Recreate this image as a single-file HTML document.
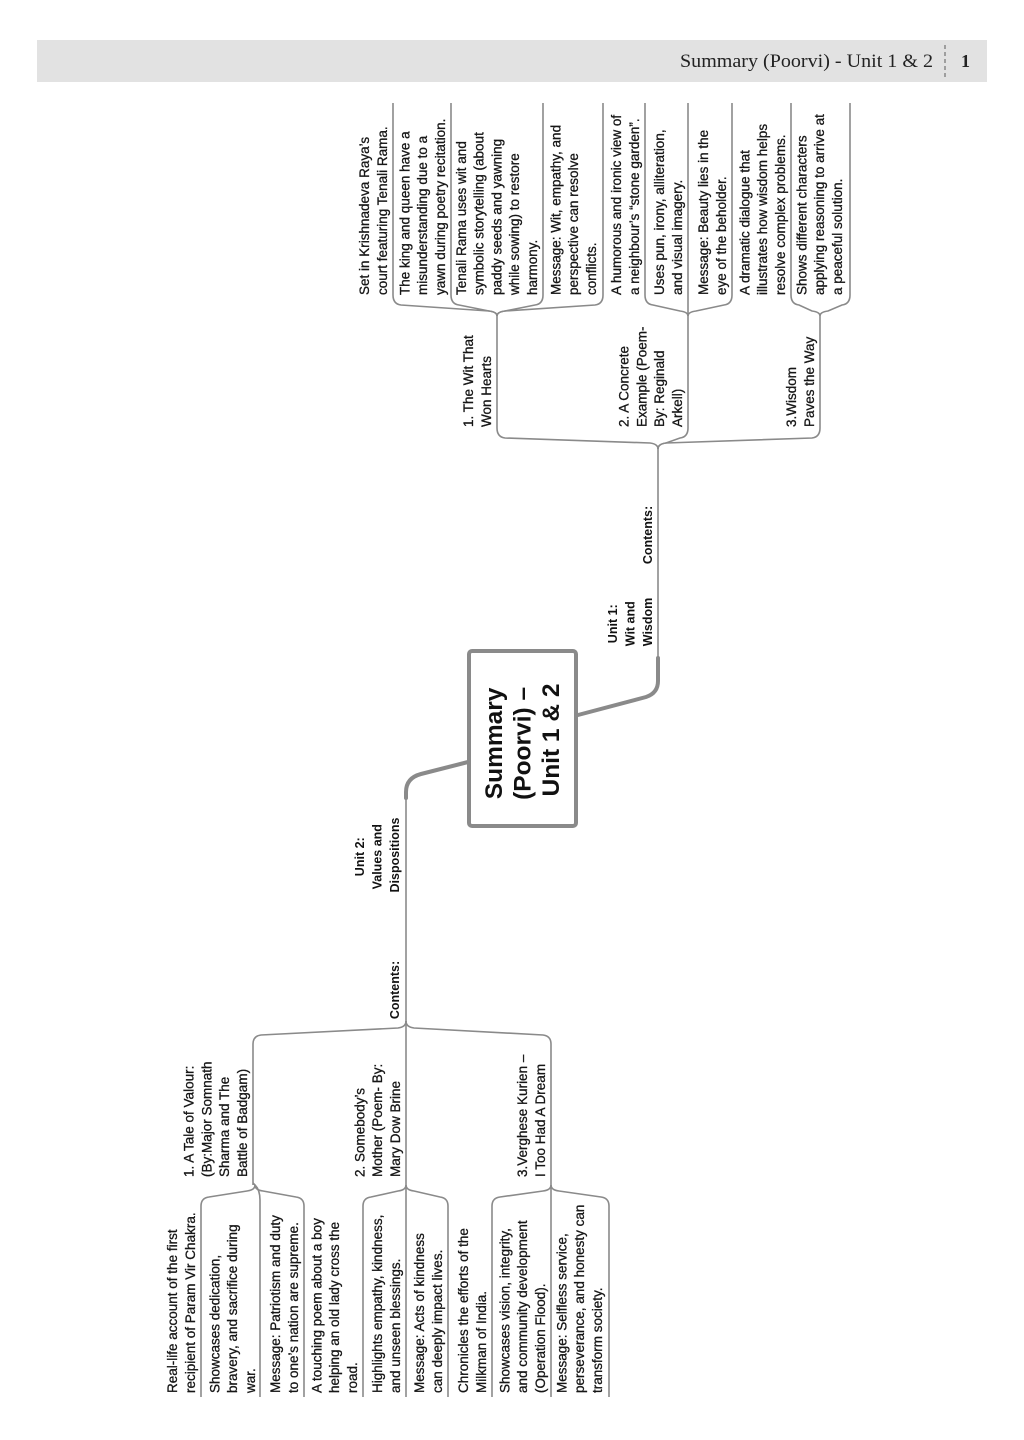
<!DOCTYPE html>
<html>
<head>
<meta charset="utf-8">
<style>
  html,body{margin:0;padding:0;background:#fff;}
  svg{display:block;}
  .t{font-family:"Liberation Sans",Arial,sans-serif;font-size:13.5px;fill:#161616;stroke:#161616;stroke-width:0.3px;}
  .b{font-family:"Liberation Sans",Arial,sans-serif;font-size:12.5px;font-weight:bold;fill:#111;}
  .c{font-family:"Liberation Sans",Arial,sans-serif;font-size:24.5px;font-weight:bold;fill:#111;}
  .ln{fill:none;stroke:#8a8a8a;stroke-width:1.6;}
  .th{fill:none;stroke:#8a8a8a;stroke-width:4;stroke-linecap:round;}
</style>
</head>
<body>
<svg width="1024" height="1440" viewBox="0 0 1024 1440" xmlns="http://www.w3.org/2000/svg">
  <!-- header -->
  <rect x="37" y="40" width="950" height="42" fill="#e2e2e2"/>
  <text x="680" y="67" font-family="'Liberation Serif',serif" font-size="19" fill="#222" textLength="253" lengthAdjust="spacingAndGlyphs">Summary (Poorvi) - Unit 1 &amp; 2</text>
  <line x1="945" y1="45" x2="945" y2="78" stroke="#888" stroke-width="1.5" stroke-dasharray="4,3"/>
  <text x="961" y="67" font-family="'Liberation Serif',serif" font-size="18" font-weight="bold" fill="#222">1</text>

  <!-- ===== TOP SECTION (Unit 1) connectors ===== -->
  <path class="ln" d="M393 103 V295 Q393 304 401 305 L489 311 Q497 312 497 316"/>
  <path class="ln" d="M451 103 V295 Q451 304 459 305 L489 311 Q497 312 497 316"/>
  <path class="ln" d="M543 103 V295 Q543 304 535 305 L505 311 Q497 312 497 316"/>
  <path class="ln" d="M603 103 V295 Q603 304 595 305 L505 311 Q497 312 497 316"/>
  <path class="ln" d="M645 103 V295 Q645 304 653 305 L680 311 Q688 312 688 316"/>
  <path class="ln" d="M688 103 V316"/>
  <path class="ln" d="M732 103 V295 Q732 304 724 305 L696 311 Q688 312 688 316"/>
  <path class="ln" d="M791 103 V295 Q791 304 799 305 L812 311 Q820 312 820 316"/>
  <path class="ln" d="M850 103 V295 Q850 304 842 305 L828 311 Q820 312 820 316"/>
  <path class="ln" d="M497 316 V428 Q497 437 505 438 L650 443 Q658 444 658 449"/>
  <path class="ln" d="M688 316 V428 Q688 437 680 438 L666 443 Q658 444 658 449"/>
  <path class="ln" d="M820 316 V428 Q820 437 812 438 L666 443 Q658 444 658 449"/>
  <path class="ln" d="M658 447 V662"/>
  <path class="th" d="M658 658 L658 681 Q658 693 646 697 L578 715"/>

  <!-- ===== LEFT/BOTTOM SECTION (Unit 2) connectors ===== -->
  <path class="th" d="M468 762 L421 774 Q406 778 406 792 L406 798"/>
  <path class="ln" d="M406 794 V1022"/>
  <path class="ln" d="M253 1185 V1044 Q253 1036 261 1035 L398 1028 Q406 1027 406 1021"/>
  <path class="ln" d="M406 1021 V1185"/>
  <path class="ln" d="M551 1185 V1044 Q551 1036 543 1035 L414 1028 Q406 1027 406 1021"/>
  <path class="ln" d="M201 1397 V1206 Q201 1198 209 1197 L247 1191 Q255 1190 255 1185"/>
  <path class="ln" d="M260 1397 V1200 Q260 1190 255 1185 L253 1183"/>
  <path class="ln" d="M304 1397 V1206 Q304 1198 296 1197 L263 1191 Q255 1190 255 1185"/>
  <path class="ln" d="M363 1397 V1206 Q363 1198 371 1197 L398 1191 Q406 1190 406 1185"/>
  <path class="ln" d="M406 1185 V1397"/>
  <path class="ln" d="M448 1397 V1206 Q448 1198 440 1197 L414 1191 Q406 1190 406 1185"/>
  <path class="ln" d="M492 1397 V1206 Q492 1198 500 1197 L543 1191 Q551 1190 551 1185"/>
  <path class="ln" d="M551 1185 V1397"/>
  <path class="ln" d="M609 1397 V1206 Q609 1198 601 1197 L559 1191 Q551 1190 551 1185"/>

  <!-- ===== Central box ===== -->
  <rect x="469" y="651" width="107" height="175" rx="3" ry="3" fill="#fff" stroke="#8a8a8a" stroke-width="4"/>
  <text class="c" text-anchor="middle" transform="translate(502,740) rotate(-90)">
    <tspan x="0" y="0">Summary</tspan>
    <tspan x="0" y="28.5">(Poorvi) –</tspan>
    <tspan x="0" y="57">Unit 1 &amp; 2</tspan>
  </text>

  <!-- Unit labels -->
  <text class="b" text-anchor="middle" transform="translate(652,622) rotate(-90)">
    <tspan x="0" y="-35">Unit 1:</tspan>
    <tspan x="0" y="-17.5">Wit and</tspan>
    <tspan x="0" y="0">Wisdom</tspan>
  </text>
  <text class="b" text-anchor="middle" transform="translate(652,535) rotate(-90)">Contents:</text>

  <text class="b" text-anchor="middle" transform="translate(399,855) rotate(-90)">
    <tspan x="0" y="-35">Unit 2:</tspan>
    <tspan x="0" y="-17.5">Values and</tspan>
    <tspan x="0" y="0">Dispositions</tspan>
  </text>
  <text class="b" text-anchor="middle" transform="translate(399,990) rotate(-90)">Contents:</text>

  <!-- ===== Top section branch texts ===== -->
  <text class="t" transform="translate(491,427) rotate(-90)">
    <tspan x="0" y="-17.8">1. The Wit That</tspan>
    <tspan x="0" y="0">Won Hearts</tspan>
  </text>
  <text class="t" transform="translate(682,427) rotate(-90)">
    <tspan x="0" y="-53.4">2. A Concrete</tspan>
    <tspan x="0" y="-35.6">Example  (Poem-</tspan>
    <tspan x="0" y="-17.8">By: Reginald</tspan>
    <tspan x="0" y="0">Arkell)</tspan>
  </text>
  <text class="t" transform="translate(814,427) rotate(-90)">
    <tspan x="0" y="-17.8">3.Wisdom</tspan>
    <tspan x="0" y="0">Paves the Way</tspan>
  </text>

  <!-- ===== Top section leaves ===== -->
  <text class="t" transform="translate(387,295) rotate(-90)">
    <tspan x="0" y="-17.8">Set in Krishnadeva Raya’s</tspan>
    <tspan x="0" y="0">court featuring Tenali Rama.</tspan>
  </text>
  <text class="t" transform="translate(445,295) rotate(-90)">
    <tspan x="0" y="-35.6">The king and queen have a</tspan>
    <tspan x="0" y="-17.8">misunderstanding due to a</tspan>
    <tspan x="0" y="0">yawn during poetry recitation.</tspan>
  </text>
  <text class="t" transform="translate(537,295) rotate(-90)">
    <tspan x="0" y="-71.2">Tenali Rama uses wit and</tspan>
    <tspan x="0" y="-53.4">symbolic storytelling (about</tspan>
    <tspan x="0" y="-35.6">paddy seeds and yawning</tspan>
    <tspan x="0" y="-17.8">while sowing) to restore</tspan>
    <tspan x="0" y="0">harmony.</tspan>
  </text>
  <text class="t" transform="translate(596,295) rotate(-90)">
    <tspan x="0" y="-35.6">Message: Wit, empathy, and</tspan>
    <tspan x="0" y="-17.8">perspective can resolve</tspan>
    <tspan x="0" y="0">conflicts.</tspan>
  </text>
  <text class="t" transform="translate(639,295) rotate(-90)">
    <tspan x="0" y="-17.8">A humorous and ironic view of</tspan>
    <tspan x="0" y="0">a neighbour’s “stone garden”.</tspan>
  </text>
  <text class="t" transform="translate(682,295) rotate(-90)">
    <tspan x="0" y="-17.8">Uses pun, irony, alliteration,</tspan>
    <tspan x="0" y="0">and visual imagery.</tspan>
  </text>
  <text class="t" transform="translate(726,295) rotate(-90)">
    <tspan x="0" y="-17.8">Message: Beauty lies in the</tspan>
    <tspan x="0" y="0">eye of the beholder.</tspan>
  </text>
  <text class="t" transform="translate(785,295) rotate(-90)">
    <tspan x="0" y="-35.6">A dramatic dialogue that</tspan>
    <tspan x="0" y="-17.8">illustrates how wisdom helps</tspan>
    <tspan x="0" y="0">resolve complex problems.</tspan>
  </text>
  <text class="t" transform="translate(842,295) rotate(-90)">
    <tspan x="0" y="-35.6">Shows different characters</tspan>
    <tspan x="0" y="-17.8">applying reasoning to arrive at</tspan>
    <tspan x="0" y="0">a peaceful solution.</tspan>
  </text>

  <!-- ===== Left section branch texts ===== -->
  <text class="t" transform="translate(247,1177) rotate(-90)">
    <tspan x="0" y="-53.4">1. A Tale of Valour:</tspan>
    <tspan x="0" y="-35.6">(By:Major Somnath</tspan>
    <tspan x="0" y="-17.8">Sharma and The</tspan>
    <tspan x="0" y="0">Battle of Badgam)</tspan>
  </text>
  <text class="t" transform="translate(400,1177) rotate(-90)">
    <tspan x="0" y="-35.6">2. Somebody’s</tspan>
    <tspan x="0" y="-17.8">Mother  (Poem- By:</tspan>
    <tspan x="0" y="0">Mary Dow Brine</tspan>
  </text>
  <text class="t" transform="translate(545,1177) rotate(-90)">
    <tspan x="0" y="-17.8">3.Verghese Kurien –</tspan>
    <tspan x="0" y="0">I Too Had A Dream</tspan>
  </text>

  <!-- ===== Left section leaves ===== -->
  <text class="t" transform="translate(195,1393) rotate(-90)">
    <tspan x="0" y="-17.8">Real-life account of the first</tspan>
    <tspan x="0" y="0">recipient of Param Vir Chakra.</tspan>
  </text>
  <text class="t" transform="translate(255,1393) rotate(-90)">
    <tspan x="0" y="-35.6">Showcases dedication,</tspan>
    <tspan x="0" y="-17.8">bravery, and sacrifice during</tspan>
    <tspan x="0" y="0">war.</tspan>
  </text>
  <text class="t" transform="translate(298,1393) rotate(-90)">
    <tspan x="0" y="-17.8">Message: Patriotism and duty</tspan>
    <tspan x="0" y="0">to one’s nation are supreme.</tspan>
  </text>
  <text class="t" transform="translate(357,1393) rotate(-90)">
    <tspan x="0" y="-35.6">A touching poem about a boy</tspan>
    <tspan x="0" y="-17.8">helping an old lady cross the</tspan>
    <tspan x="0" y="0">road.</tspan>
  </text>
  <text class="t" transform="translate(400,1393) rotate(-90)">
    <tspan x="0" y="-17.8">Highlights empathy, kindness,</tspan>
    <tspan x="0" y="0">and unseen blessings.</tspan>
  </text>
  <text class="t" transform="translate(442,1393) rotate(-90)">
    <tspan x="0" y="-17.8">Message: Acts of kindness</tspan>
    <tspan x="0" y="0">can deeply impact lives.</tspan>
  </text>
  <text class="t" transform="translate(486,1393) rotate(-90)">
    <tspan x="0" y="-17.8">Chronicles the efforts of the</tspan>
    <tspan x="0" y="0">Milkman of India.</tspan>
  </text>
  <text class="t" transform="translate(545,1393) rotate(-90)">
    <tspan x="0" y="-35.6">Showcases vision, integrity,</tspan>
    <tspan x="0" y="-17.8">and community development</tspan>
    <tspan x="0" y="0">(Operation Flood).</tspan>
  </text>
  <text class="t" transform="translate(602,1393) rotate(-90)">
    <tspan x="0" y="-35.6">Message: Selfless service,</tspan>
    <tspan x="0" y="-17.8">perseverance, and honesty can</tspan>
    <tspan x="0" y="0">transform society.</tspan>
  </text>
</svg>
</body>
</html>
